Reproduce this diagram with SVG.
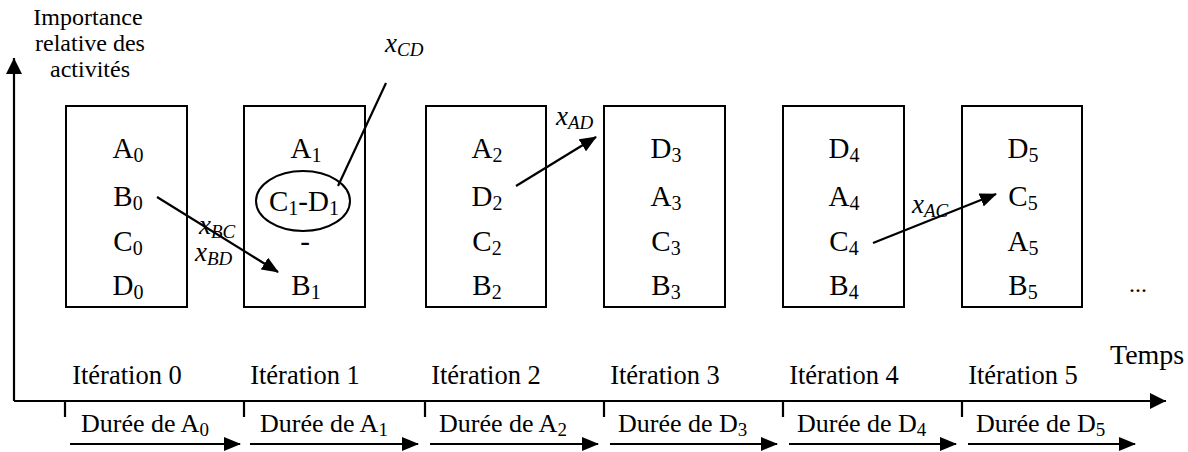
<svg xmlns="http://www.w3.org/2000/svg" width="1188" height="452" viewBox="0 0 1188 452">
<style>
text{font-family:"Liberation Serif","Times New Roman",serif;fill:#000}
.row{font-size:29px;text-anchor:middle}
.sub{font-size:20px}
.it{font-size:26.5px;text-anchor:middle}
.lbl{font-size:24px}
.dur{font-size:26px}
.dsub{font-size:19px}
.var{font-size:27px;font-style:italic}
.vsub{font-size:19px;font-style:italic}
.box{fill:#fff;stroke:#000;stroke-width:2}
.ln{stroke:#000;stroke-width:2.2;fill:none}
</style>
<defs>
<marker id="ah" markerWidth="17" markerHeight="14" refX="16" refY="7" orient="auto" markerUnits="userSpaceOnUse">
<path d="M0,0 L17,7 L0,14 Z" fill="#000"/>
</marker>
<marker id="ah2" markerWidth="16" markerHeight="16" refX="16" refY="8" orient="auto" markerUnits="userSpaceOnUse">
<path d="M0,0 L16,8 L0,16 Z" fill="#000"/>
</marker>
</defs>

<g id="axes">
<line class="ln" x1="14" y1="401" x2="14" y2="58" marker-end="url(#ah2)"/>
<line class="ln" x1="14" y1="401" x2="1166" y2="401" marker-end="url(#ah2)"/>
<text class="lbl" text-anchor="middle" x="88" y="25">Importance</text>
<text class="lbl" text-anchor="middle" x="90" y="51">relative des</text>
<text class="lbl" text-anchor="middle" x="90" y="77">activités</text>
<text class="lbl" style="font-size:28px" x="1110" y="364">Temps</text>
<text class="lbl" x="1129" y="292">...</text>
</g>

<g id="iter0">
<rect class="box" x="66" y="106" width="121" height="201"/>
<text class="row" x="128" y="158">A<tspan class="sub" dy="4">0</tspan></text>
<text class="row" x="128" y="206">B<tspan class="sub" dy="4">0</tspan></text>
<text class="row" x="128" y="251">C<tspan class="sub" dy="4">0</tspan></text>
<text class="row" x="128" y="295">D<tspan class="sub" dy="4">0</tspan></text>
<text class="it" x="127" y="384">Itération 0</text>
</g>

<g id="iter1">
<rect class="box" x="244" y="106" width="121" height="201"/>
<text class="row" x="306" y="158">A<tspan class="sub" dy="4">1</tspan></text>
<ellipse cx="303" cy="201" rx="47" ry="30" fill="none" stroke="#000" stroke-width="2"/>
<text class="row" x="304" y="211">C<tspan class="sub" dy="4">1</tspan><tspan dy="-4">-D</tspan><tspan class="sub" dy="4">1</tspan></text>
<text class="row" x="305" y="251">-</text>
<text class="row" x="306" y="295">B<tspan class="sub" dy="4">1</tspan></text>
<text class="it" x="305" y="384">Itération 1</text>
</g>

<g id="iter2">
<rect class="box" x="426" y="106" width="120" height="201"/>
<text class="row" x="487" y="158">A<tspan class="sub" dy="4">2</tspan></text>
<text class="row" x="487" y="206">D<tspan class="sub" dy="4">2</tspan></text>
<text class="row" x="487" y="251">C<tspan class="sub" dy="4">2</tspan></text>
<text class="row" x="487" y="295">B<tspan class="sub" dy="4">2</tspan></text>
<text class="it" x="486" y="384">Itération 2</text>
</g>

<g id="iter3">
<rect class="box" x="604" y="106" width="121" height="201"/>
<text class="row" x="666" y="158">D<tspan class="sub" dy="4">3</tspan></text>
<text class="row" x="666" y="206">A<tspan class="sub" dy="4">3</tspan></text>
<text class="row" x="666" y="251">C<tspan class="sub" dy="4">3</tspan></text>
<text class="row" x="666" y="295">B<tspan class="sub" dy="4">3</tspan></text>
<text class="it" x="665" y="384">Itération 3</text>
</g>

<g id="iter4">
<rect class="box" x="783" y="106" width="121" height="201"/>
<text class="row" x="844" y="158">D<tspan class="sub" dy="4">4</tspan></text>
<text class="row" x="844" y="206">A<tspan class="sub" dy="4">4</tspan></text>
<text class="row" x="844" y="251">C<tspan class="sub" dy="4">4</tspan></text>
<text class="row" x="844" y="295">B<tspan class="sub" dy="4">4</tspan></text>
<text class="it" x="844" y="384">Itération 4</text>
</g>

<g id="iter5">
<rect class="box" x="962" y="106" width="120" height="201"/>
<text class="row" x="1023" y="158">D<tspan class="sub" dy="4">5</tspan></text>
<text class="row" x="1023" y="206">C<tspan class="sub" dy="4">5</tspan></text>
<text class="row" x="1023" y="251">A<tspan class="sub" dy="4">5</tspan></text>
<text class="row" x="1023" y="295">B<tspan class="sub" dy="4">5</tspan></text>
<text class="it" x="1023" y="384">Itération 5</text>
</g>

<g id="connectors">
<line class="ln" x1="157" y1="197" x2="278" y2="272" marker-end="url(#ah)"/>
<line class="ln" x1="338" y1="186" x2="386" y2="83"/>
<line class="ln" x1="516" y1="186" x2="596" y2="137" marker-end="url(#ah)"/>
<line class="ln" x1="873" y1="243" x2="996" y2="194" marker-end="url(#ah)"/>
<text class="var" x="199" y="234">x<tspan class="vsub" dy="4">BC</tspan></text>
<text class="var" x="195" y="261">x<tspan class="vsub" dy="4">BD</tspan></text>
<text class="var" x="385" y="52">x<tspan class="vsub" dy="4">CD</tspan></text>
<text class="var" x="556" y="125">x<tspan class="vsub" dy="4">AD</tspan></text>
<text class="var" x="912" y="213">x<tspan class="vsub" dy="4">AC</tspan></text>
</g>

<g id="durations">
<path class="ln" d="M65,401 V417 M244,401 V417 M425,401 V417 M604,401 V417 M783,401 V417 M962,401 V417"/>
<line class="ln" x1="70" y1="444" x2="240" y2="444" marker-end="url(#ah)"/>
<line class="ln" x1="250" y1="444" x2="418" y2="444" marker-end="url(#ah)"/>
<line class="ln" x1="430" y1="444" x2="598" y2="444" marker-end="url(#ah)"/>
<line class="ln" x1="610" y1="444" x2="777" y2="444" marker-end="url(#ah)"/>
<line class="ln" x1="789" y1="444" x2="956" y2="444" marker-end="url(#ah)"/>
<line class="ln" x1="968" y1="444" x2="1135" y2="444" marker-end="url(#ah)"/>
<text class="dur" x="81" y="432">Durée de A<tspan class="dsub" dy="4">0</tspan></text>
<text class="dur" x="260" y="432">Durée de A<tspan class="dsub" dy="4">1</tspan></text>
<text class="dur" x="439" y="432">Durée de A<tspan class="dsub" dy="4">2</tspan></text>
<text class="dur" x="618" y="432">Durée de D<tspan class="dsub" dy="4">3</tspan></text>
<text class="dur" x="797" y="432">Durée de D<tspan class="dsub" dy="4">4</tspan></text>
<text class="dur" x="976" y="432">Durée de D<tspan class="dsub" dy="4">5</tspan></text>
</g>
</svg>
